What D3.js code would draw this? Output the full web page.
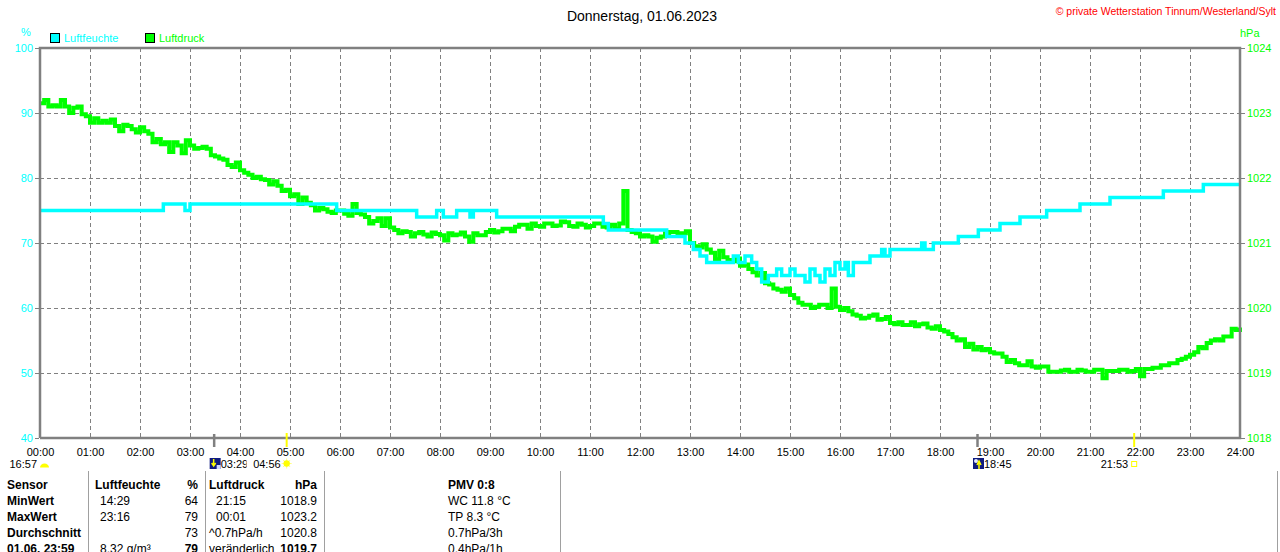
<!DOCTYPE html>
<html><head><meta charset="utf-8">
<script src="https://cdn.jsdelivr.net/npm/d3@7/dist/d3.min.js"></script>
<style>
body{margin:0;background:#fff;}
svg{display:block;font-family:"Liberation Sans",Arial,sans-serif;}
</style></head>
<body><svg id="c" width="1280" height="552"></svg>
<script>
// ---------- data ----------
const title = "Donnerstag, 01.06.2023";
const copyright = "© private Wetterstation Tinnum/Westerland/Sylt";
const hourLabels = ["00:00","01:00","02:00","03:00","04:00","05:00","06:00","07:00","08:00","09:00","10:00","11:00","12:00","13:00","14:00","15:00","16:00","17:00","18:00","19:00","20:00","21:00","22:00","23:00","24:00"];
const humTicks = [40,50,60,70,80,90,100];
const presTicks = [1018,1019,1020,1021,1022,1023,1024];

const humidity = [
["00:00",75],["02:28",76],["02:54",75],["03:00",76],["05:56",75],["07:32",74],["07:56",75],["08:04",74],
["08:20",75],["08:36",74],["08:40",75],["09:08",74],["11:16",73],["11:22",72],["12:32",71],["12:54",70],
["13:04",69],["13:12",68],["13:20",67],["13:52",68],["13:58",67],["14:06",68],["14:14",67],["14:20",66],
["14:26",64],["14:34",65],["14:44",66],["14:50",65],["15:00",66],["15:06",65],["15:18",64],["15:24",66],
["15:30",65],["15:36",64],["15:42",66],["15:48",65],["15:54",67],["16:00",66],["16:06",67],["16:10",65],
["16:16",67],["16:36",68],["16:50",69],["16:54",68],["17:00",69],["17:38",70],["17:42",69],["17:52",70],
["18:22",71],["18:46",72],["19:12",73],["19:36",74],["20:08",75],["20:48",76],["21:24",77],["22:28",78],
["23:16",79],["24:00",79]
];

// Luftdruck readings every 5 minutes, 00:00 .. 24:00 (one row per hour)
const pressureStepMin = 5;
const pressure = [
1023.15,1023.2,1023.1,1023.12,1023.1,1023.2,1023.1,1023.0,1023.08,1023.1,1022.98,1022.95,
1022.85,1022.92,1022.85,1022.88,1022.85,1022.9,1022.8,1022.72,1022.82,1022.8,1022.75,1022.7,
1022.78,1022.72,1022.68,1022.55,1022.6,1022.52,1022.55,1022.4,1022.55,1022.5,1022.38,1022.58,
1022.5,1022.45,1022.46,1022.48,1022.45,1022.35,1022.33,1022.3,1022.28,1022.2,1022.17,1022.24,
1022.12,1022.08,1022.05,1022.0,1022.02,1021.98,1021.97,1021.9,1021.95,1021.88,1021.8,1021.82,
1021.72,1021.75,1021.6,1021.7,1021.62,1021.58,1021.5,1021.54,1021.52,1021.48,1021.46,1021.5,
1021.5,1021.45,1021.42,1021.6,1021.46,1021.44,1021.4,1021.3,1021.34,1021.38,1021.26,1021.38,
1021.24,1021.2,1021.15,1021.18,1021.17,1021.1,1021.15,1021.17,1021.13,1021.1,1021.16,1021.14,
1021.12,1021.04,1021.15,1021.12,1021.13,1021.16,1021.1,1021.02,1021.15,1021.12,1021.12,1021.17,
1021.2,1021.16,1021.18,1021.22,1021.22,1021.18,1021.25,1021.28,1021.28,1021.22,1021.3,1021.26,
1021.25,1021.3,1021.3,1021.26,1021.27,1021.33,1021.32,1021.26,1021.25,1021.3,1021.28,1021.24,
1021.26,1021.3,1021.3,1021.25,1021.24,1021.28,1021.22,1021.3,1021.8,1021.2,1021.17,1021.15,
1021.1,1021.12,1021.1,1021.02,1021.08,1021.1,1021.15,1021.17,1021.17,1021.15,1021.15,1021.18,
1021.0,1020.95,1020.93,1020.98,1020.9,1020.85,1020.75,1020.88,1020.78,1020.74,1020.72,1020.76,
1020.65,1020.67,1020.6,1020.55,1020.5,1020.54,1020.38,1020.36,1020.3,1020.28,1020.25,1020.3,
1020.2,1020.15,1020.08,1020.05,1020.05,1020.0,1020.02,1020.05,1020.05,1020.0,1020.3,1020.02,
1019.97,1020.0,1019.95,1019.9,1019.88,1019.84,1019.85,1019.88,1019.9,1019.82,1019.83,1019.86,
1019.77,1019.75,1019.78,1019.74,1019.74,1019.78,1019.72,1019.75,1019.76,1019.7,1019.68,1019.72,
1019.66,1019.64,1019.6,1019.55,1019.5,1019.52,1019.4,1019.45,1019.36,1019.4,1019.35,1019.37,
1019.32,1019.3,1019.3,1019.25,1019.17,1019.2,1019.15,1019.12,1019.12,1019.18,1019.1,1019.08,
1019.1,1019.1,1019.02,1019.02,1019.02,1019.04,1019.05,1019.02,1019.02,1019.05,1019.04,1019.02,
1019.02,1019.05,1019.05,1018.92,1019.03,1019.03,1019.03,1019.05,1019.05,1019.02,1019.03,1019.06,
1018.95,1019.06,1019.06,1019.08,1019.08,1019.12,1019.12,1019.15,1019.15,1019.2,1019.22,1019.25,
1019.28,1019.32,1019.4,1019.38,1019.46,1019.5,1019.52,1019.5,1019.56,1019.56,1019.68,1019.66,
1019.7
];

const astroEvents = [
  {time:"03:29", kind:"moonrise"},
  {time:"04:56", kind:"sunrise"},
  {time:"18:45", kind:"moonset"},
  {time:"21:53", kind:"sunset"}
];
const prevEvent = "16:57";

const tableCols = [
  ["Sensor","MinWert","MaxWert","Durchschnitt","01.06. 23:59"],
  ["Luftfeuchte","14:29","23:16","","8.32 g/m³"],
  ["%","64","79","73","79"],
  ["Luftdruck","21:15","00:01","^0.7hPa/h","veränderlich"],
  ["hPa","1018.9","1023.2","1020.8","1019.7"],
  ["PMV 0:8","WC 11.8 °C","TP 8.3 °C","0.7hPa/3h","0.4hPa/1h"]
];

// ---------- setup ----------
const svg = d3.select("#c");
const L=40,R=1240,T=48,B=438;
const toH = s => { const [h,m]=s.split(":").map(Number); return h+m/60; };
const x = d3.scaleLinear().domain([0,24]).range([L,R]);
const yH = d3.scaleLinear().domain([40,100]).range([B,T]);
const yP = d3.scaleLinear().domain([1018,1024]).range([B,T]);
const CY="#00ffff", GR="#00ff00", GRAY="#808080";

// title
svg.append("text").attr("x",642).attr("y",21).attr("text-anchor","middle")
  .attr("font-size",14).attr("fill","#000").text(title);
svg.append("text").attr("x",1276).attr("y",15).attr("text-anchor","end")
  .attr("font-size",10.5).attr("fill","#ff0000").text(copyright);

// unit labels and legend
svg.append("text").attr("x",26).attr("y",36).attr("text-anchor","middle").attr("font-size",11).attr("fill",CY).text("%");
svg.append("text").attr("x",1240).attr("y",37).attr("font-size",11).attr("fill",GR).text("hPa");
const legend=[{n:"Luftfeuchte",c:CY,x:50},{n:"Luftdruck",c:GR,x:145}];
legend.forEach(d=>{
  svg.append("rect").attr("x",d.x+0.5).attr("y",33.5).attr("width",9).attr("height",9)
    .attr("fill",d.c).attr("stroke","#000").attr("stroke-width",1);
  svg.append("text").attr("x",d.x+14).attr("y",42).attr("font-size",11).attr("fill",d.c).text(d.n);
});

// grid
const g=svg.append("g");
g.selectAll(".vg").data(d3.range(1,24)).enter().append("line")
  .attr("x1",d=>x(d)).attr("x2",d=>x(d)).attr("y1",T).attr("y2",B)
  .attr("stroke",GRAY).attr("stroke-dasharray","4,3").attr("stroke-width",1).attr("shape-rendering","crispEdges");
g.selectAll(".hg").data(humTicks.slice(1,-1)).enter().append("line")
  .attr("x1",L).attr("x2",R).attr("y1",d=>yH(d)).attr("y2",d=>yH(d))
  .attr("stroke",GRAY).attr("stroke-dasharray","4,3").attr("stroke-width",1).attr("shape-rendering","crispEdges");

// axes
const axL = svg.append("g").attr("transform",`translate(${L-1},0)`)
  .call(d3.axisLeft(yH).tickValues(humTicks).tickFormat(d3.format("d")).tickSize(4).tickPadding(2));
axL.select(".domain").remove();
axL.selectAll("line").attr("stroke",GRAY);
axL.selectAll("text").attr("fill",CY).attr("font-size",11).attr("font-family","Liberation Sans, Arial");
const axR = svg.append("g").attr("transform",`translate(${R+1},0)`)
  .call(d3.axisRight(yP).tickValues(presTicks).tickFormat(d3.format("d")).tickSize(4).tickPadding(2));
axR.select(".domain").remove();
axR.selectAll("line").attr("stroke",GRAY);
axR.selectAll("text").attr("fill",GR).attr("font-size",11).attr("font-family","Liberation Sans, Arial");
const axB = svg.append("g").attr("transform",`translate(0,${B})`)
  .call(d3.axisBottom(x).tickValues(d3.range(0,25)).tickFormat(d=>hourLabels[d]).tickSize(0).tickPadding(10));
axB.select(".domain").remove();
axB.selectAll("text").attr("fill","#000").attr("font-size",11).attr("font-family","Liberation Sans, Arial");

// lines
const lineP = d3.line().x((d,i)=>x(i*pressureStepMin/60)).y(d=>yP(d)).curve(d3.curveStepAfter);
const lineH = d3.line().x(d=>x(toH(d[0]))).y(d=>yH(d[1])).curve(d3.curveStepAfter);
svg.append("path").datum(pressure).attr("d",lineP).attr("fill","none").attr("stroke",GR).attr("stroke-width",4);
svg.append("path").datum(humidity).attr("d",lineH).attr("fill","none").attr("stroke",CY).attr("stroke-width",3.5);

// frame
svg.append("path").attr("d",`M${L},${B}V${T}H${R}V${B}H${L}`).attr("fill","none")
  .attr("stroke",GRAY).attr("stroke-width",2.5);

// astro markers
astroEvents.forEach(e=>{
  const tx=x(toH(e.time));
  const sun = e.kind.startsWith("sun");
  svg.append("line").attr("x1",tx).attr("x2",tx).attr("y1",sun?433:434).attr("y2",447)
    .attr("stroke",sun?"#ffff00":GRAY).attr("stroke-width",sun?2:2.5);
  if(sun){
    svg.append("text").attr("x",tx-6).attr("y",468).attr("text-anchor","end").attr("font-size",11).attr("fill","#000").text(e.time);
    if(e.kind==="sunrise"){
      const sg=svg.append("g").attr("transform",`translate(${tx},463.5)`);
      sg.selectAll("line").data(d3.range(8)).enter().append("line")
        .attr("x1",0).attr("y1",0).attr("x2",d=>5*Math.cos(d*Math.PI/4)).attr("y2",d=>5*Math.sin(d*Math.PI/4))
        .attr("stroke","#ffff80").attr("stroke-width",1);
      sg.append("circle").attr("r",3.2).attr("fill","#ffff00");
    } else {
      svg.append("rect").attr("x",tx-2.5).attr("y",461.5).attr("width",5).attr("height",5)
        .attr("fill","none").attr("stroke","#ffff00").attr("stroke-width",1);
    }
  } else {
    const ix=tx-4.5;
    svg.append("rect").attr("x",ix).attr("y",458).attr("width",11).attr("height",11).attr("fill","#101c80");
    if(e.kind==="moonrise"){
      svg.append("path").attr("d",`M${ix+4},${459}V${465}M${ix+2},${463}L${ix+4},${466}L${ix+6},${463}`)
        .attr("stroke","#ffff00").attr("stroke-width",1.5).attr("fill","none");
      svg.append("rect").attr("x",ix+7).attr("y",465).attr("width",4).attr("height",4).attr("fill","#d0d8ff");
    } else {
      svg.append("circle").attr("cx",ix+3).attr("cy",461).attr("r",2).attr("fill","#e8ecff");
      svg.append("path").attr("d",`M${ix+6},${469}V${462}M${ix+4},${465}L${ix+6},${461}L${ix+8},${465}`)
        .attr("stroke","#ffff00").attr("stroke-width",1.5).attr("fill","none");
    }
    const clipId="clip"+e.time.replace(":","");
    svg.append("clipPath").attr("id",clipId).append("rect").attr("x",ix+11).attr("y",455).attr("width",e.kind==="moonrise"?26:40).attr("height",20);
    svg.append("text").attr("x",ix+11).attr("y",468).attr("font-size",11).attr("fill","#000")
      .attr("clip-path",`url(#${clipId})`).text(e.time);
  }
});
svg.append("text").attr("x",37).attr("y",468).attr("text-anchor","end").attr("font-size",11).attr("fill","#000").text(prevEvent);
svg.append("path").attr("d","M40,467.5A4.5,4 0 0 1 49,467.5Z").attr("fill","#ffff00");

// table
[88.5,205.5,324.5,560.5,1277.5].forEach(v=>{
  svg.append("line").attr("x1",v).attr("x2",v).attr("y1",471).attr("y2",552).attr("stroke","#a0a0a0").attr("stroke-width",1);
});
const colSpec=[
  {x:7,anchor:"start",boldRows:[0,1,2,3,4]},
  {x:95,anchor:"start",boldRows:[0],indent:5},
  {x:198,anchor:"end",boldRows:[0,4]},
  {x:209,anchor:"start",boldRows:[0],indent:7,indentRows:[1,2]},
  {x:317,anchor:"end",boldRows:[0,4]},
  {x:448,anchor:"start",boldRows:[0]}
];
const rowY=[489,505,521,537,553];
tableCols.forEach((col,ci)=>{
  const s=colSpec[ci];
  col.forEach((txt,ri)=>{
    if(!txt) return;
    const bold=s.boldRows.includes(ri);
    let xx=s.x;
    if(ci===1 && ri>0) xx+=s.indent;
    if(ci===3 && s.indentRows.includes(ri)) xx+=s.indent;
    svg.append("text").attr("x",xx).attr("y",rowY[ri]).attr("text-anchor",s.anchor)
      .attr("font-size",12).attr("font-weight",bold?"bold":"normal").attr("fill","#000").text(txt);
  });
});
</script></body></html>
